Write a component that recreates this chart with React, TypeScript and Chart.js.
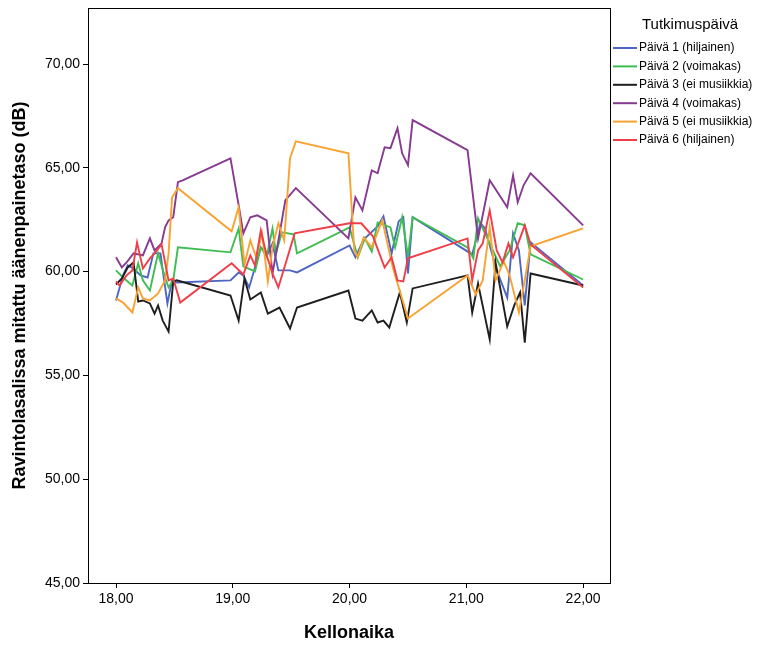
import { useEffect, useRef } from "react";
import { Chart, registerables } from "chart.js";

Chart.register(...registerables);

// Measurement times (decimal hours) and sound pressure levels (dB) per study day
const day1Times = [18.00, 18.06, 18.10, 18.15, 18.21, 18.27, 18.32, 18.38, 18.44, 18.48, 18.52, 18.98, 19.05, 19.09, 19.14, 19.24, 19.30, 19.34, 19.39, 19.49, 19.55, 20.00, 20.05, 20.12, 20.24, 20.29, 20.36, 20.42, 20.46, 20.50, 20.54, 21.05, 21.12, 21.16, 21.26, 21.35, 21.40, 21.45, 21.50, 21.55, 22.00];
const day1Db = [58.61, 59.82, 60.30, 60.15, 59.82, 59.72, 60.88, 60.88, 58.47, 59.58, 59.48, 59.58, 59.96, 59.82, 59.24, 61.17, 60.88, 61.36, 60.06, 60.06, 59.96, 61.26, 60.69, 61.55, 62.18, 62.66, 60.88, 62.42, 62.62, 59.91, 62.62, 60.83, 62.33, 62.08, 60.06, 58.75, 61.84, 61.02, 58.37, 61.41, 59.33];

const day2Times = [18.00, 18.06, 18.14, 18.19, 18.23, 18.29, 18.36, 18.42, 18.45, 18.49, 18.53, 18.98, 19.05, 19.09, 19.19, 19.24, 19.29, 19.34, 19.37, 19.42, 19.52, 19.55, 20.00, 20.07, 20.13, 20.19, 20.24, 20.35, 20.39, 20.45, 20.50, 20.54, 21.01, 21.06, 21.10, 21.20, 21.29, 21.37, 21.44, 21.50, 21.55, 22.00];
const day2Db = [60.06, 59.72, 59.33, 60.40, 59.58, 59.09, 60.88, 59.72, 59.24, 59.58, 61.17, 60.93, 62.08, 60.25, 60.01, 61.17, 60.73, 62.08, 60.88, 61.89, 61.80, 60.88, 62.13, 60.69, 61.60, 60.97, 62.37, 62.13, 61.17, 62.62, 60.73, 62.62, 61.17, 60.64, 62.57, 61.36, 60.25, 61.02, 62.33, 62.23, 60.83, 59.62];

const day3Times = [18.00, 18.05, 18.10, 18.15, 18.19, 18.23, 18.29, 18.33, 18.36, 18.40, 18.45, 18.49, 18.52, 18.98, 19.05, 19.10, 19.15, 19.24, 19.30, 19.40, 19.49, 19.55, 19.99, 20.05, 20.11, 20.19, 20.24, 20.29, 20.34, 20.43, 20.49, 20.54, 21.01, 21.05, 21.10, 21.20, 21.25, 21.35, 21.41, 21.46, 21.50, 21.55, 22.00];
const day3Db = [59.38, 59.67, 60.20, 60.44, 58.56, 58.61, 58.47, 57.98, 58.37, 57.64, 57.11, 59.53, 59.58, 58.85, 57.64, 59.67, 58.66, 59.00, 57.98, 58.27, 57.26, 58.27, 59.09, 57.74, 57.64, 58.13, 57.55, 57.64, 57.31, 59.00, 57.55, 59.19, 59.82, 58.03, 59.43, 56.73, 60.44, 57.36, 58.37, 59.00, 56.58, 59.91, 59.33];

const day4Times = [18.00, 18.05, 18.09, 18.15, 18.23, 18.29, 18.33, 18.39, 18.42, 18.45, 18.49, 18.53, 18.57, 18.98, 19.05, 19.09, 19.15, 19.21, 19.29, 19.34, 19.41, 19.45, 19.54, 19.99, 20.05, 20.11, 20.19, 20.24, 20.30, 20.35, 20.41, 20.45, 20.50, 20.54, 21.01, 21.10, 21.20, 21.35, 21.40, 21.44, 21.49, 21.55, 22.00];
const day4Db = [60.69, 60.20, 60.44, 60.88, 60.78, 61.60, 61.02, 61.36, 62.13, 62.47, 62.62, 64.31, 64.40, 65.46, 63.20, 61.84, 62.62, 62.71, 62.47, 59.91, 62.13, 63.44, 64.02, 61.60, 63.58, 62.95, 64.88, 64.74, 65.99, 65.95, 66.91, 65.70, 65.13, 67.30, 65.85, 61.60, 64.40, 63.10, 64.64, 63.34, 64.16, 64.74, 62.23];

const day5Times = [18.00, 18.06, 18.14, 18.19, 18.23, 18.29, 18.36, 18.42, 18.45, 18.48, 18.53, 18.99, 19.05, 19.10, 19.15, 19.20, 19.25, 19.30, 19.34, 19.39, 19.44, 19.49, 19.54, 19.99, 20.04, 20.07, 20.12, 20.19, 20.28, 20.37, 20.50, 21.01, 21.08, 21.14, 21.20, 21.25, 21.32, 21.37, 21.45, 21.50, 21.55, 22.00];
const day5Db = [58.71, 58.51, 58.03, 59.24, 58.71, 58.61, 58.95, 59.58, 60.88, 63.58, 64.02, 61.94, 63.10, 60.35, 61.51, 60.69, 61.84, 59.53, 61.17, 62.33, 61.51, 65.46, 66.28, 65.70, 61.02, 60.69, 61.65, 61.17, 62.47, 60.20, 57.74, 59.82, 58.90, 59.58, 62.13, 59.58, 60.49, 59.82, 58.03, 59.58, 61.22, 62.08];

const day6Times = [18.00, 18.03, 18.09, 18.14, 18.18, 18.23, 18.29, 18.33, 18.39, 18.45, 18.49, 18.55, 18.99, 19.09, 19.15, 19.19, 19.24, 19.29, 19.34, 19.39, 19.53, 20.00, 20.10, 20.20, 20.30, 20.36, 20.41, 20.46, 20.50, 21.01, 21.05, 21.10, 21.14, 21.20, 21.26, 21.31, 21.36, 21.40, 21.50, 21.55, 22.00];
const day6Db = [59.53, 59.33, 59.82, 60.06, 61.41, 60.15, 60.64, 60.88, 61.31, 59.58, 59.67, 58.51, 60.40, 59.86, 60.78, 60.30, 61.99, 60.78, 59.91, 59.24, 61.84, 62.33, 62.33, 61.70, 60.20, 60.69, 59.58, 59.53, 60.64, 61.60, 59.58, 61.02, 61.36, 62.95, 61.02, 60.44, 61.36, 60.69, 62.23, 61.31, 59.24];

const seriesNames = [
  "Päivä 1 (hiljainen)",
  "Päivä 2 (voimakas)",
  "Päivä 3 (ei musiikkia)",
  "Päivä 4 (voimakas)",
  "Päivä 5 (ei musiikkia)",
  "Päivä 6 (hiljainen)",
];
const seriesColors = ["#4D66C2", "#3FBD52", "#1E1E1E", "#873A90", "#F9A231", "#EE3E47"];
const seriesTimes = [day1Times, day2Times, day3Times, day4Times, day5Times, day6Times];
const seriesDb = [day1Db, day2Db, day3Db, day4Db, day5Db, day6Db];

const xTicks = [18, 19, 20, 21, 22];
const yTicks = [45, 50, 55, 60, 65, 70];
const X_MIN = 17.76;
const X_MAX = 22.23;
const Y_MIN = 45;
const Y_MAX = 72.7;

const legendTitle = "Tutkimuspäivä";
const xTitle = "Kellonaika";
const yTitle = "Ravintolasalissa mitattu äänenpainetaso (dB)";

const SANS = "'Liberation Sans', Arial, sans-serif";
const NARROW = "'Liberation Sans Narrow', 'Liberation Sans', Arial, sans-serif";

const fmt = (v: number) => v.toFixed(2).replace(".", ",");

// Closed box around the plotting area
const framePlugin = {
  id: "plotFrame",
  afterDatasetsDraw(chart: any) {
    const { ctx, chartArea: a } = chart;
    ctx.save();
    ctx.strokeStyle = "#000";
    ctx.lineWidth = 1;
    ctx.strokeRect(Math.round(a.left) + 0.5, Math.round(a.top) + 0.5, Math.round(a.right - a.left), Math.round(a.bottom - a.top));
    ctx.restore();
  },
};

// Legend drawn to the right of the plot
const sideLegendPlugin = {
  id: "sideLegend",
  afterDraw(chart: any) {
    const { ctx, chartArea: a } = chart;
    ctx.save();
    ctx.fillStyle = "#000";
    ctx.textBaseline = "middle";
    ctx.textAlign = "center";
    ctx.font = `15px ${SANS}`;
    ctx.fillText(legendTitle, 690, 25);
    ctx.textAlign = "left";
    ctx.font = `12px ${SANS}`;
    seriesNames.forEach((name, i) => {
      const y = 48 + i * 18.4;
      ctx.strokeStyle = seriesColors[i];
      ctx.lineWidth = 2;
      ctx.beginPath();
      ctx.moveTo(a.right + 3, y);
      ctx.lineTo(a.right + 27, y);
      ctx.stroke();
      ctx.fillText(name, a.right + 29, y);
    });
    ctx.restore();
  },
};

export default function App() {
  const canvasRef = useRef<HTMLCanvasElement | null>(null);

  useEffect(() => {
    const canvas = canvasRef.current;
    if (!canvas) return;
    const datasets = seriesNames.map((name, i) => ({
      label: name,
      data: seriesTimes[i].map((t, j) => ({ x: t, y: seriesDb[i][j] })),
      borderColor: seriesColors[i],
      backgroundColor: seriesColors[i],
      borderWidth: 1.9,
      pointRadius: 0,
      tension: 0,
      fill: false,
      order: seriesNames.length - i,
    }));

    const axisGrid = {
      display: true,
      drawOnChartArea: false,
      drawTicks: true,
      tickLength: 5,
      color: "#000",
      tickColor: "#000",
      lineWidth: 1,
    };

    const chart = new Chart(canvas, {
      type: "line",
      data: { datasets },
      options: {
        animation: false,
        responsive: false,
        maintainAspectRatio: false,
        layout: { padding: { left: 0, top: 8, right: 165, bottom: 0 } },
        plugins: { legend: { display: false }, tooltip: { enabled: false } },
        scales: {
          x: {
            type: "linear",
            min: X_MIN,
            max: X_MAX,
            afterBuildTicks: (s: any) => {
              s.ticks = xTicks.map((v) => ({ value: v }));
            },
            afterFit: (s: any) => {
              s.height = 64;
              s.paddingLeft = 0;
              s.paddingRight = 0;
            },
            grid: axisGrid,
            border: { display: true, color: "#000", width: 1 },
            ticks: {
              autoSkip: false,
              maxRotation: 0,
              padding: 3,
              color: "#000",
              font: { family: NARROW, size: 14 },
              callback: (v: any) => fmt(Number(v)),
            },
            title: {
              display: true,
              text: xTitle,
              color: "#000",
              font: { family: SANS, size: 18, weight: "bold" },
              padding: { top: 0, bottom: 3 },
            },
          },
          y: {
            type: "linear",
            min: Y_MIN,
            max: Y_MAX,
            afterBuildTicks: (s: any) => {
              s.ticks = yTicks.map((v) => ({ value: v }));
            },
            afterFit: (s: any) => {
              s.width = 88;
              s.paddingTop = 0;
              s.paddingBottom = 0;
            },
            grid: axisGrid,
            border: { display: true, color: "#000", width: 1 },
            ticks: {
              autoSkip: false,
              padding: 3,
              color: "#000",
              font: { family: NARROW, size: 14 },
              callback: (v: any) => fmt(Number(v)),
            },
            title: {
              display: true,
              text: yTitle,
              color: "#000",
              font: { family: SANS, size: 18, weight: "bold" },
              padding: { top: 9, bottom: 0 },
            },
          },
        },
      },
      plugins: [framePlugin, sideLegendPlugin],
    });

    return () => chart.destroy();
  }, []);

  return (
    <div style={{ position: "absolute", left: 0, top: 0, width: 775, height: 647, background: "#fff" }}>
      <canvas ref={canvasRef} width={775} height={647} style={{ display: "block" }} />
    </div>
  );
}
